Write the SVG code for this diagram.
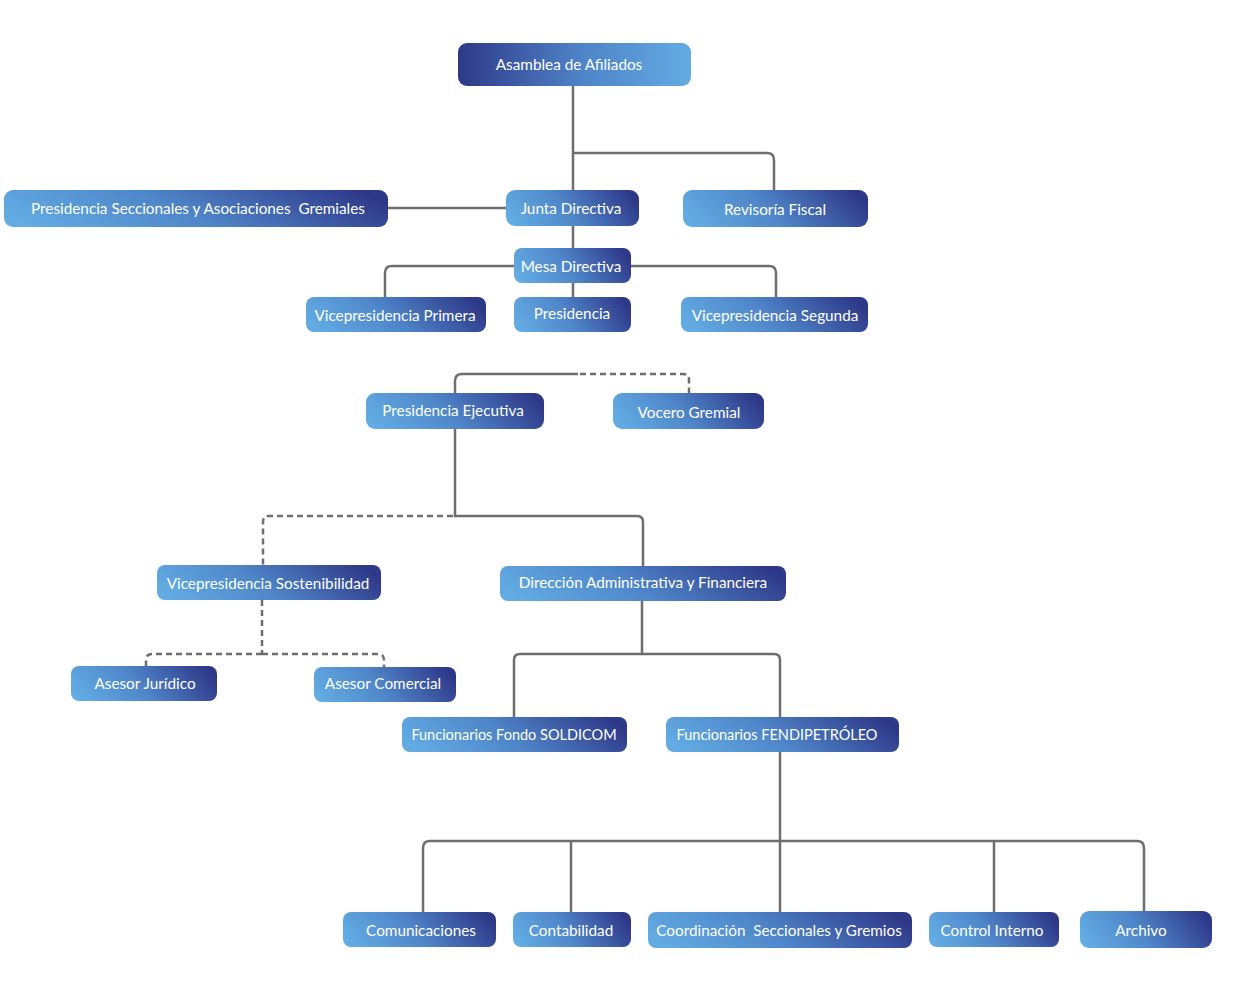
<svg xmlns="http://www.w3.org/2000/svg" width="1235" height="996" viewBox="0 0 1235 996">
<defs>
<linearGradient id="gLD" x1="0" y1="0.6" x2="1" y2="0.4">
<stop offset="0" stop-color="#62abe3"/>
<stop offset="0.45" stop-color="#4f86c9"/>
<stop offset="1" stop-color="#2e3889"/>
</linearGradient>
<linearGradient id="gDL" x1="0" y1="0.5" x2="1" y2="0.5">
<stop offset="0" stop-color="#2e3889"/>
<stop offset="0.55" stop-color="#4f86c9"/>
<stop offset="1" stop-color="#62abe3"/>
</linearGradient>
</defs>
<style>
.n{fill:url(#gLD)}
.nr{fill:url(#gDL)}
.t{font-family:Lato,"Open Sans","Liberation Sans",sans-serif;font-size:15.3px;fill:#ffffff;text-anchor:middle;white-space:pre}
.s{font-size:14.5px}
.c{fill:none;stroke:#6d6e71;stroke-width:2.5}
.d{fill:none;stroke:#6d6e71;stroke-width:2.5;stroke-dasharray:6 4}
</style>
<rect width="1235" height="996" fill="#ffffff"/>
<g id="connectors">
<path class="c" d="M573 86V190"/>
<path class="c" d="M573 153H767Q774 153 774 160V190"/>
<path class="c" d="M388 208H506"/>
<path class="c" d="M573 226V248"/>
<path class="c" d="M514 266H392Q385 266 385 273V297"/>
<path class="c" d="M631 266H769Q776 266 776 273V297"/>
<path class="c" d="M573 283V297"/>
<path class="c" d="M455 393V381Q455 374 462 374H578"/>
<path class="d" d="M580 374H683Q689 374 689 380V393"/>
<path class="c" d="M455 429V516H637Q643 516 643 522V566"/>
<path class="d" d="M453 516H269Q263 516 263 522V565"/>
<path class="d" d="M262 600V654"/>
<path class="d" d="M262 654H378Q384 654 384 660V667"/>
<path class="d" d="M262 654H152Q146 654 146 660V666"/>
<path class="c" d="M642 601V654"/>
<path class="c" d="M642 654H774Q780 654 780 660V717"/>
<path class="c" d="M642 654H520Q514 654 514 660V717"/>
<path class="c" d="M780 752V912"/>
<path class="c" d="M780 841H1137Q1144 841 1144 848V912"/>
<path class="c" d="M780 841H430Q423 841 423 848V912"/>
<path class="c" d="M571 841V912"/>
<path class="c" d="M994 841V912"/>
</g>
<g id="asamblea"><rect class="nr" x="458" y="43" width="233" height="43" rx="9"/><text class="t" x="569" y="70">Asamblea de Afiliados</text></g>
<g id="pres-seccionales"><rect class="n" x="4" y="190" width="384" height="37" rx="9"/><text class="t" x="198" y="214" xml:space="preserve">Presidencia Seccionales y Asociaciones  Gremiales</text></g>
<g id="junta"><rect class="n" x="506" y="190" width="133" height="36" rx="9"/><text class="t" x="571" y="214">Junta Directiva</text></g>
<g id="revisoria"><rect class="n" x="683" y="190" width="185" height="37" rx="9"/><text class="t" x="775" y="215">Revisoría Fiscal</text></g>
<g id="mesa"><rect class="n" x="514" y="248" width="117" height="35" rx="8"/><text class="t" x="571" y="272">Mesa Directiva</text></g>
<g id="vice-primera"><rect class="n" x="306" y="297" width="180" height="35" rx="8"/><text class="t" x="395" y="321">Vicepresidencia Primera</text></g>
<g id="presidencia"><rect class="n" x="514" y="297" width="117" height="35" rx="8"/><text class="t" x="572" y="319">Presidencia</text></g>
<g id="vice-segunda"><rect class="n" x="681" y="297" width="187" height="35" rx="8"/><text class="t" x="775" y="321">Vicepresidencia Segunda</text></g>
<g id="pres-ejecutiva"><rect class="n" x="366" y="393" width="178" height="36" rx="9"/><text class="t" x="453" y="416">Presidencia Ejecutiva</text></g>
<g id="vocero"><rect class="n" x="613" y="393" width="151" height="36" rx="9"/><text class="t" x="689" y="418">Vocero Gremial</text></g>
<g id="vice-sost"><rect class="n" x="157" y="565" width="224" height="35" rx="8"/><text class="t" x="268" y="589">Vicepresidencia Sostenibilidad</text></g>
<g id="direccion"><rect class="n" x="500" y="566" width="286" height="35" rx="8"/><text class="t" x="643" y="588">Dirección Administrativa y Financiera</text></g>
<g id="asesor-juridico"><rect class="n" x="71" y="666" width="146" height="35" rx="8"/><text class="t" x="145" y="689">Asesor Jurídico</text></g>
<g id="asesor-comercial"><rect class="n" x="314" y="667" width="142" height="35" rx="8"/><text class="t" x="383" y="689">Asesor Comercial</text></g>
<g id="fondo-soldicom"><rect class="n" x="402" y="717" width="225" height="35" rx="8"/><text class="t s" x="514" y="740">Funcionarios Fondo SOLDICOM</text></g>
<g id="fendipetroleo"><rect class="n" x="666" y="717" width="233" height="35" rx="8"/><text class="t s" x="777" y="740">Funcionarios FENDIPETRÓLEO</text></g>
<g id="comunicaciones"><rect class="n" x="343" y="912" width="153" height="35" rx="8"/><text class="t" x="421" y="936">Comunicaciones</text></g>
<g id="contabilidad"><rect class="n" x="513" y="912" width="118" height="35" rx="8"/><text class="t" x="571" y="936">Contabilidad</text></g>
<g id="coordinacion"><rect class="n" x="648" y="912" width="264" height="36" rx="8"/><text class="t" x="779" y="936" xml:space="preserve">Coordinación  Seccionales y Gremios</text></g>
<g id="control-interno"><rect class="n" x="929" y="912" width="130" height="35" rx="8"/><text class="t" x="992" y="936">Control Interno</text></g>
<g id="archivo"><rect class="n" x="1080" y="911" width="132" height="37" rx="9"/><text class="t" x="1141" y="936">Archivo</text></g>
</svg>
